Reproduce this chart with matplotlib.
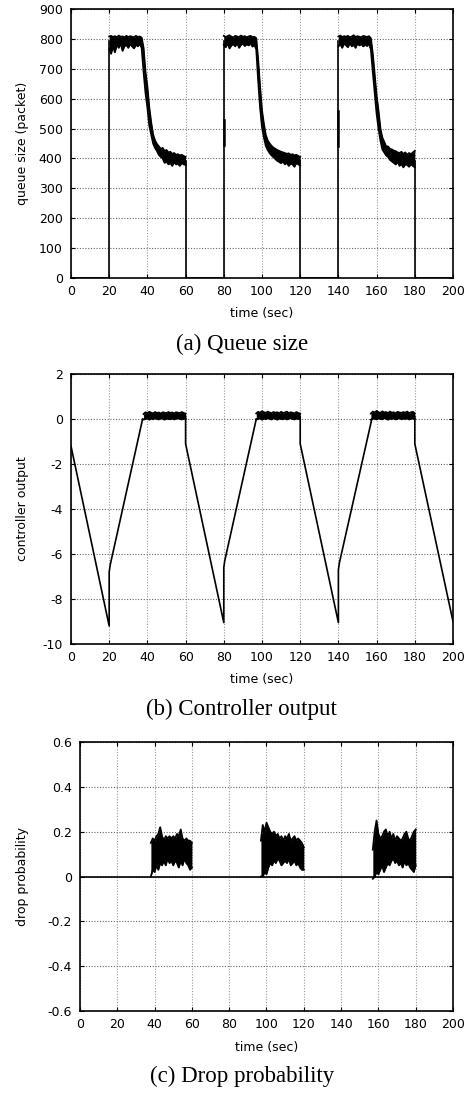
import matplotlib
matplotlib.use("Agg")
import matplotlib.pyplot as plt
from matplotlib.ticker import FuncFormatter
import numpy as np

plt.rcParams['font.family'] = ['DejaVu Sans']
plt.rcParams['axes.unicode_minus'] = False

nan = np.nan

# ---- (a) queue size ----
# flat parts and the jumps (nan breaks the line where a noisy band takes over)
q_t = [0, 20, 20, nan, 60, 60, 80, 80, nan, 120, 120, 140, 140, nan, 180, 180, 200]
q_y = [0, 0, 792, nan, 390, 0, 0, 792, nan, 390, 0, 0, 792, nan, 390, 0, 0]
# short dark pieces on the jumps at 80 and 140
q_mark_t = [80, 80, nan, 140, 140]
q_mark_y = [445, 530, nan, 440, 560]

q_band1_t = np.arange(20, 61)
q_band1_hi = [808, 810, 806, 809, 805, 811, 807, 808, 805, 810, 806, 809, 807, 805, 810, 806, 808,
              804, 770, 690, 640, 570, 520, 480, 460, 448, 440, 432, 435, 425, 428, 420, 422, 415,
              418, 412, 414, 410, 412, 408, 405]
q_band1_lo = [765, 750, 775, 755, 780, 770, 785, 760, 775, 780, 770, 782, 775, 768, 780, 775, 782,
              770, 690, 620, 570, 510, 480, 450, 435, 425, 412, 405, 400, 385, 390, 380, 385, 375,
              388, 380, 382, 375, 385, 380, 378]
q_band2_t = np.arange(80, 121)
q_band2_hi = [810, 806, 809, 812, 807, 805, 810, 808, 806, 811, 807, 809, 805, 808, 810, 806, 807,
              802, 730, 640, 560, 515, 478, 460, 450, 442, 436, 432, 428, 425, 422, 420, 418, 415,
              417, 412, 414, 410, 412, 408, 405]
q_band2_lo = [780, 772, 785, 768, 778, 782, 775, 786, 770, 780, 784, 776, 782, 778, 785, 774, 780,
              765, 660, 570, 505, 470, 442, 428, 418, 410, 404, 398, 392, 388, 384, 390, 380, 386,
              375, 383, 380, 372, 385, 380, 376]
q_band3_t = np.arange(140, 181)
q_band3_hi = [808, 811, 806, 809, 807, 810, 805, 808, 812, 806, 809, 807, 805, 810, 808, 806, 809,
              802, 750, 680, 610, 560, 500, 470, 455, 440, 440, 432, 430, 426, 424, 420, 418, 422,
              415, 420, 412, 418, 414, 420, 425]
q_band3_lo = [775, 782, 770, 785, 778, 772, 786, 775, 780, 770, 784, 778, 782, 775, 780, 776, 783,
              765, 690, 620, 550, 500, 460, 430, 420, 410, 405, 395, 390, 385, 380, 388, 375, 382,
              370, 380, 378, 372, 380, 375, 370]

# ---- (b) controller output ----
c_t = [0, 20, 20, 20.5, 37.5, nan, 60, 60, 80, 80, 80.5, 97, nan,
       120, 120, 140, 140, 140.5, 157.5, nan, 180, 180, 200]
c_y = [-1.2, -9.2, -6.8, -6.5, 0.0, nan, 0.1, -1.1, -9.05, -6.6, -6.3, 0.0, nan,
       0.1, -1.1, -9.05, -6.7, -6.4, 0.0, nan, 0.1, -1.1, -9.0]

c_band1_t = np.arange(38, 61)
c_band1_hi = [0.22, 0.30, 0.26, 0.32, 0.28, 0.25, 0.31, 0.27, 0.29, 0.24, 0.30, 0.28, 0.26, 0.31,
              0.27, 0.29, 0.25, 0.30, 0.28, 0.26, 0.31, 0.27, 0.24]
c_band1_lo = [-0.02, 0.0, 0.03, -0.03, 0.02, -0.01, 0.04, 0.0, -0.02, 0.03, 0.01, -0.03, 0.02, 0.0,
              -0.01, 0.03, -0.02, 0.01, 0.04, 0.0, -0.02, 0.02, 0.0]
c_band2_t = np.arange(97, 121)
c_band2_hi = [0.25, 0.32, 0.28, 0.35, 0.30, 0.27, 0.33, 0.29, 0.26, 0.31, 0.28, 0.30, 0.25, 0.32,
              0.27, 0.29, 0.33, 0.26, 0.30, 0.28, 0.25, 0.31, 0.27, 0.24]
c_band2_lo = [-0.02, 0.0, 0.03, -0.03, 0.02, -0.01, 0.04, 0.0, -0.02, 0.03, 0.01, -0.03, 0.02, 0.0,
              -0.01, 0.03, -0.02, 0.01, 0.04, 0.0, -0.02, 0.02, 0.0, 0.01]
c_band3_t = np.arange(157, 181)
c_band3_hi = [0.24, 0.33, 0.29, 0.36, 0.30, 0.27, 0.34, 0.29, 0.31, 0.26, 0.33, 0.28, 0.30, 0.25,
              0.32, 0.29, 0.27, 0.31, 0.28, 0.33, 0.26, 0.30, 0.32, 0.25]
c_band3_lo = [-0.03, 0.01, 0.02, -0.02, 0.03, 0.0, -0.01, 0.04, 0.01, -0.03, 0.02, 0.0, 0.03, -0.02,
              0.01, 0.04, -0.01, 0.02, 0.0, 0.03, -0.02, 0.01, 0.02, 0.0]

# ---- (c) drop probability ----
d_t = [0, 200]
d_y = [0, 0]
d_band1_t = np.arange(38, 61)
d_band1_hi = [0.15, 0.17, 0.16, 0.18, 0.19, 0.22, 0.18, 0.16, 0.18, 0.17, 0.18, 0.17, 0.18, 0.17,
              0.19, 0.18, 0.21, 0.17, 0.16, 0.17, 0.16, 0.16, 0.15]
d_band1_lo = [0.0, 0.03, 0.02, 0.05, 0.03, 0.06, 0.05, 0.07, 0.05, 0.08, 0.06, 0.07, 0.05, 0.07,
              0.06, 0.04, 0.07, 0.05, 0.08, 0.06, 0.05, 0.03, 0.04]
d_band2_t = np.arange(97, 121)
d_band2_hi = [0.16, 0.23, 0.20, 0.24, 0.22, 0.20, 0.19, 0.20, 0.18, 0.19, 0.17, 0.18, 0.16, 0.18,
              0.17, 0.19, 0.16, 0.17, 0.18, 0.16, 0.17, 0.16, 0.15, 0.13]
d_band2_lo = [0.0, 0.0, 0.02, 0.01, 0.04, 0.06, 0.05, 0.07, 0.06, 0.08, 0.07, 0.05, 0.06, 0.07,
              0.06, 0.08, 0.05, 0.06, 0.07, 0.05, 0.06, 0.04, 0.03, 0.03]
d_band3_t = np.arange(157, 181)
d_band3_hi = [0.12, 0.20, 0.25, 0.19, 0.17, 0.18, 0.20, 0.21, 0.18, 0.20, 0.17, 0.19, 0.16, 0.18,
              0.17, 0.16, 0.17, 0.19, 0.20, 0.17, 0.16, 0.18, 0.20, 0.21]
d_band3_lo = [-0.01, 0.0, 0.02, 0.01, 0.03, 0.05, 0.02, 0.04, 0.06, 0.05, 0.07, 0.08, 0.06, 0.07,
              0.05, 0.06, 0.04, 0.07, 0.05, 0.06, 0.04, 0.03, 0.02, 0.05]

x_ticks = list(range(0, 201, 20))
q_ticks = list(range(0, 901, 100))
c_ticks = list(range(-10, 3, 2))
d_ticks = [-0.6, -0.4, -0.2, 0, 0.2, 0.4, 0.6]

fig = plt.figure(figsize=(4.77, 10.93), dpi=100)
ax1 = fig.add_axes([0.1488, 0.7457, 0.8009, 0.2461])
ax2 = fig.add_axes([0.1488, 0.4108, 0.8009, 0.2470])
ax3 = fig.add_axes([0.1677, 0.0750, 0.7820, 0.2461])


def draw_band(ax, t, lo, hi):
    ax.fill_between(t, lo, hi, color='black', lw=0)
    ax.plot(t, hi, color='black', lw=1.3)
    ax.plot(t, lo, color='black', lw=1.3)


def style(ax, yticks, ylabel, ylab_x, xlab_y):
    ax.set_xlim(0, 200)
    ax.set_ylim(yticks[0], yticks[-1])
    ax.set_xticks(x_ticks)
    ax.set_yticks(yticks)
    ax.yaxis.set_major_formatter(FuncFormatter(lambda v, p: '%g' % round(v, 2)))
    ax.tick_params(direction='in', length=3, width=0.8, labelsize=9, top=True, right=True)
    ax.tick_params(axis='x', pad=5)
    ax.tick_params(axis='y', pad=6)
    ax.grid(True, axis='x', color='#9a9a9a', linestyle=(0, (1, 1.5)), lw=0.8)
    ax.grid(True, axis='y', color='#666666', linestyle=(0, (1, 1.5)), lw=0.8)
    ax.set_axisbelow(True)
    for s in ax.spines.values():
        s.set_linewidth(1.2)
        s.set_zorder(5)
    ax.set_xlabel('time (sec)', fontsize=9)
    ax.set_ylabel(ylabel, fontsize=9)
    ax.xaxis.set_label_coords(0.5, xlab_y)
    ax.yaxis.set_label_coords(ylab_x, 0.5)


# (a)
ax1.plot(q_t, q_y, color='black', lw=1.2)
ax1.plot(q_mark_t, q_mark_y, color='black', lw=1.8)
draw_band(ax1, q_band1_t, q_band1_lo, q_band1_hi)
draw_band(ax1, q_band2_t, q_band2_lo, q_band2_hi)
draw_band(ax1, q_band3_t, q_band3_lo, q_band3_hi)
style(ax1, q_ticks, 'queue size (packet)', -0.110, -0.108)

# (b)
ax2.plot(c_t, c_y, color='black', lw=1.2)
draw_band(ax2, c_band1_t, c_band1_lo, c_band1_hi)
draw_band(ax2, c_band2_t, c_band2_lo, c_band2_hi)
draw_band(ax2, c_band3_t, c_band3_lo, c_band3_hi)
style(ax2, c_ticks, 'controller output', -0.110, -0.108)

# (c)
ax3.plot(d_t, d_y, color='black', lw=1.2)
draw_band(ax3, d_band1_t, d_band1_lo, d_band1_hi)
draw_band(ax3, d_band2_t, d_band2_lo, d_band2_hi)
draw_band(ax3, d_band3_t, d_band3_lo, d_band3_hi)
style(ax3, d_ticks, 'drop probability', -0.137, -0.112)

cap = dict(ha='center', va='center', fontsize=16.5, family=['Liberation Serif', 'DejaVu Serif'])
fig.text(0.507, 1 - 344 / 1093, '(a) Queue size', **cap)
fig.text(0.507, 1 - 709 / 1093, '(b) Controller output', **cap)
fig.text(0.507, 1 - 1076 / 1093, '(c) Drop probability', **cap)

fig.savefig('out.png', dpi=100)
